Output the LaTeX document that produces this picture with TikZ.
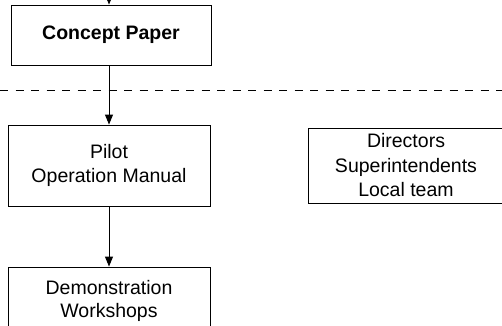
\documentclass[tikz,border=0pt]{standalone}
\usepackage{fontspec}
\setmainfont{Liberation Sans}
\usetikzlibrary{arrows.meta}

\begin{document}
\begin{tikzpicture}[x=1pt,y=-1pt,line width=0.9pt,
  font=\fontsize{19.5}{23.5}\selectfont,
  box/.style={draw,align=center,inner sep=0pt},
  arr/.style={-{Triangle[length=10pt,width=8pt]}}]

\useasboundingbox (0,0) rectangle (502,325);
\clip (0,0) rectangle (502,325);

%Fase di concetto

\begin{scope}
\coordinate (top) at (109,-2);
\node[box,minimum width=200,minimum height=60,font=\fontsize{19.5}{23.5}\selectfont\bfseries] (concept) at (111,35) {Concept Paper};

\draw[dashed,dash pattern=on 8pt off 7.5pt] (0,90.5) coordinate (l) -- (502,90.5) coordinate (r);

\node[box,minimum width=202,minimum height=81] (pilot) at (109,165.5) {Pilot\\Operation Manual};
\node[box,minimum width=202,minimum height=87] (demo) at (109,310.5) {Demonstration\\Workshops\\};
\node[box,minimum width=196,minimum height=75,font=\fontsize{19.5}{24.5}\selectfont] (team) at (406,165.5) {Directors\\Superintendents\\Local team};

\draw[arr] (top) -- (concept.north -| top);
\draw[arr] (concept.south -| top) -- (pilot.north -| top);
\draw[arr] (pilot.south -| top) -- (demo.north -| top);
\end{scope}

\end{tikzpicture}
\end{document}
